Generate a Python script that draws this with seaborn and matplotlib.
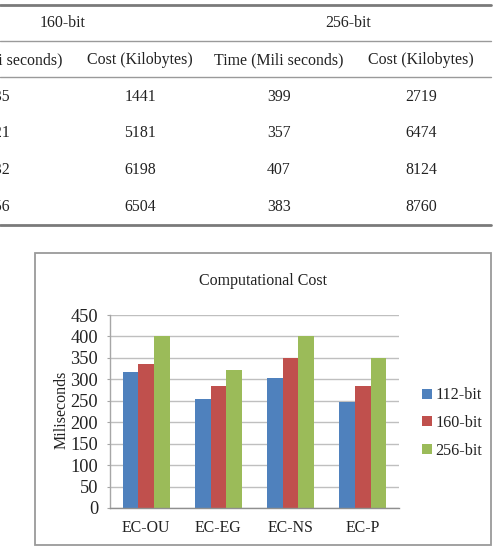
import matplotlib
matplotlib.use("Agg")
import matplotlib.pyplot as plt
from matplotlib.lines import Line2D
from matplotlib.patches import Rectangle
import seaborn as sns
import pandas as pd

# ---------------- data ----------------
schemes = ["EC-OU", "EC-EG", "EC-NS", "EC-P"]
key_sizes = ["112-bit", "160-bit", "256-bit"]
time_112 = [316, 254, 303, 248]
time_160 = [335, 285, 350, 285]
time_256 = [400, 322, 402, 350]
colors = ["#4F81BD", "#C0504D", "#9BBB59"]
yticks = [0, 50, 100, 150, 200, 250, 300, 350, 400, 450]

# table fragment above the chart (left column is cropped in the reference)
table_groups = ["160-bit", "256-bit"]
table_headers = ["Time (Mili seconds)", "Cost (Kilobytes)", "Time (Mili seconds)", "Cost (Kilobytes)"]
t160_time = ["335", "321", "332", "356"]
t160_cost = ["1441", "5181", "6198", "6504"]
t256_time = ["399", "357", "407", "383"]
t256_cost = ["2719", "6474", "8124", "8760"]

# ---------------- figure ----------------
sns.set_style("white")
plt.rcParams["font.family"] = ["Liberation Serif", "DejaVu Serif"]

W, H = 493, 547
fig = plt.figure(figsize=(W / 100, H / 100), dpi=100)
fig.patch.set_facecolor("white")

def fx(px):
    return px / W

def fy(py):
    return 1 - py / H

txt_col = "#222222"

# ----- table -----
def hline(y, lw, col):
    fig.add_artist(Line2D([0, fx(491)], [fy(y), fy(y)], transform=fig.transFigure,
                          color=col, lw=lw))

hline(4.5, 2.0, "#7a7a7a")
hline(41, 1.0, "#9a9a9a")
hline(77, 1.0, "#9a9a9a")
hline(225, 2.0, "#7a7a7a")

tfs = 11.4
for label, cx in zip(table_groups, [63, 348]):
    fig.text(fx(cx), fy(23), label, ha="center", va="center", fontsize=tfs, color=txt_col)
col_x = [-2, 140, 279, 421]
for label, cx in zip(table_headers, col_x):
    fig.text(fx(cx), fy(60), label, ha="center", va="center", fontsize=tfs, color=txt_col)
row_y = [97, 133, 170, 207]
for col, cx in zip([t160_time, t160_cost, t256_time, t256_cost], col_x):
    for v, ry in zip(col, row_y):
        fig.text(fx(cx), fy(ry), v, ha="center", va="center", fontsize=tfs, color=txt_col)

# ----- chart border -----
fig.add_artist(Rectangle((fx(35), fy(545)), fx(491) - fx(35), fy(253) - fy(545),
                         transform=fig.transFigure, fill=False, edgecolor="#9a9a9a", lw=1.3))

# ----- bar chart -----
rows = []
for s, a, b, c in zip(schemes, time_112, time_160, time_256):
    rows.append({"scheme": s, "key": key_sizes[0], "ms": a})
    rows.append({"scheme": s, "key": key_sizes[1], "ms": b})
    rows.append({"scheme": s, "key": key_sizes[2], "ms": c})
df = pd.DataFrame(rows)

ax_left, ax_right, ax_top, ax_bot = 110, 399, 315, 508
ax = fig.add_axes([fx(ax_left), fy(ax_bot), fx(ax_right) - fx(ax_left), fy(ax_top) - fy(ax_bot)])
sns.barplot(data=df, x="scheme", y="ms", hue="key", order=schemes, hue_order=key_sizes,
            palette=colors, saturation=1, width=0.65, linewidth=0, ax=ax)

ax.set_ylim(0, 450)
ax.set_xlim(-0.5, len(schemes) - 0.5)
ax.set_yticks(yticks)
ax.set_yticklabels([str(t) for t in yticks])
ax.yaxis.grid(True, color="#BFBFBF", lw=1.0)
ax.xaxis.grid(False)
ax.set_axisbelow(True)
for sp in ["top", "right"]:
    ax.spines[sp].set_visible(False)
ax.spines["left"].set_color("#A6A6A6")
ax.spines["bottom"].set_color("#8f8f8f")
ax.spines["left"].set_linewidth(1.0)
ax.spines["bottom"].set_linewidth(1.0)
ax.tick_params(axis="y", which="major", left=True, length=2.5, width=0.8, color="#A6A6A6",
               pad=6.0, labelsize=13.2, labelcolor=txt_col)
ax.tick_params(axis="x", length=0, pad=8.5, labelsize=11.4, labelcolor=txt_col)
ax.set_xlabel("")
ax.set_ylabel("Miliseconds", fontsize=11.5, color=txt_col)
ax.yaxis.label.set_verticalalignment("center")
ax.yaxis.set_label_coords((62 - ax_left) / (ax_right - ax_left), (ax_bot - 410) / (ax_bot - ax_top))

fig.text(fx(263), fy(281), "Computational Cost", ha="center", va="center",
         fontsize=11.5, color=txt_col)

handles, labels = ax.get_legend_handles_labels()
ax.legend(handles, labels, loc="center left", bbox_to_anchor=(fx(414), fy(423)),
          bbox_transform=fig.transFigure, frameon=False, fontsize=11.6,
          handlelength=0.6, handleheight=0.6, handletextpad=0.25, labelspacing=0.72,
          borderpad=0, labelcolor=txt_col)

fig.savefig("out.png", dpi=100, facecolor="white")
